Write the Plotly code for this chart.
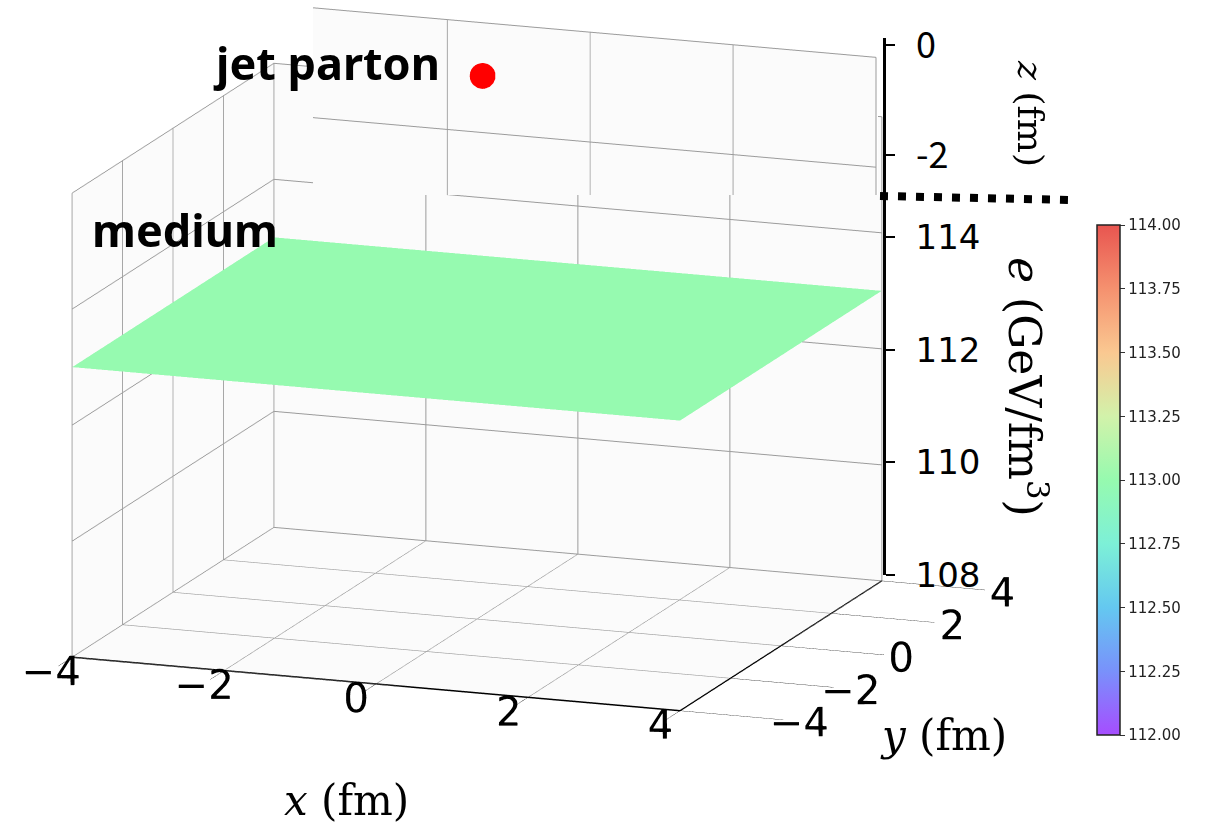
import plotly.graph_objects as go

# ---------------- data ----------------
x_edges = [-4.0, 4.0]                        # fm
y_edges = [-4.0, 4.0]                        # fm
e_medium = [[113.0, 113.0], [113.0, 113.0]]  # GeV/fm^3 (uniform medium)

jet_x = [-0.5]
jet_y = [1.0]
jet_z = [0.0]

xy_ticks = [-4, -2, 0, 2, 4]
xy_ticktext = ["\u22124", "\u22122", "0", "2", "4"]
e_ticks = [108, 110, 112, 114]
z_ticks = [-2, 0]
z_ticktext = ["-2", "0"]
cbar_ticks = [112.00, 112.25, 112.50, 112.75, 113.00, 113.25, 113.50, 113.75, 114.00]

W, H = 1219, 831
def px(x): return x / W
def py(y): return 1 - y / H

rainbow = [
    [0.0, "rgb(166,77,255)"],
    [0.125, "rgb(121,145,251)"],
    [0.25, "rgb(100,200,240)"],
    [0.375, "rgb(125,240,215)"],
    [0.5, "rgb(150,250,175)"],
    [0.625, "rgb(210,242,170)"],
    [0.75, "rgb(250,200,145)"],
    [0.875, "rgb(245,145,111)"],
    [1.0, "rgb(232,85,80)"],
]

tickfont3d = dict(family="DejaVu Sans", size=22, color="black")

def axis3d(rng, tickvals, ticktext=None, labels=True, line=True, ticklen=60):
    d = dict(
        range=rng, tickvals=tickvals, showticklabels=labels, tickangle=0,
        title=dict(text=""), showbackground=True,
        backgroundcolor="rgb(251,251,251)", gridcolor="rgb(155,155,155)",
        gridwidth=2, showline=line, linecolor="black", linewidth=3,
        ticks="outside" if labels else "", tickcolor="black", ticklen=ticklen,
        zeroline=False, showspikes=False, tickfont=tickfont3d,
    )
    if ticktext is not None:
        d["ticktext"] = ticktext
    return d

# common viewing direction (matplotlib-like elev ~14 deg, azim ~ -70 deg)
view = (0.337, -0.911, 0.238)

def cam(center, k):
    return dict(
        center=dict(x=center[0], y=center[1], z=center[2]),
        eye=dict(x=center[0] + k * view[0], y=center[1] + k * view[1], z=center[2] + k * view[2]),
        up=dict(x=0, y=0, z=1),
        projection=dict(type="orthographic"),
    )

fig = go.Figure()

fig.add_trace(go.Surface(
    x=x_edges, y=y_edges, z=e_medium, surfacecolor=e_medium,
    colorscale=rainbow, cmin=112.0, cmax=114.0,
    lighting=dict(ambient=1.0, diffuse=0.0, specular=0.0, fresnel=0.0, roughness=1.0),
    hoverinfo="skip", scene="scene",
    colorbar=dict(
        x=px(1097), xanchor="left", xpad=0, y=py(735), yanchor="bottom", ypad=0,
        len=(735 - 225) / H, lenmode="fraction", thickness=23,
        tickvals=cbar_ticks, tickformat=".2f", ticks="outside", ticklen=5,
        tickcolor="#333", outlinecolor="#222", outlinewidth=1.5,
        tickfont=dict(family="DejaVu Sans", size=15, color="#222"),
    ),
))

fig.add_trace(go.Scatter3d(
    x=jet_x, y=jet_y, z=jet_z, mode="markers",
    marker=dict(size=15, color="red", line=dict(width=0)),
    hoverinfo="skip", scene="scene2", showlegend=False,
))

# 2D carriers for the vertical axes drawn on the right
fig.add_trace(go.Scatter(x=[], y=[], xaxis="x", yaxis="y", showlegend=False, hoverinfo="skip"))
fig.add_trace(go.Scatter(x=[], y=[], xaxis="x", yaxis="y2", showlegend=False, hoverinfo="skip"))

vaxis = dict(
    anchor="free", position=px(884), side="right", showline=True, linecolor="black",
    linewidth=2.5, ticks="outside", ticklen=9, tickwidth=2, tickcolor="black",
    showgrid=False, zeroline=False, fixedrange=True, ticklabelstandoff=14, automargin=False,
)

fig.update_layout(
    template="none",
    width=W, height=H,
    margin=dict(l=0, r=0, t=0, b=0, pad=0, autoexpand=False),
    paper_bgcolor="white", plot_bgcolor="rgba(0,0,0,0)",
    showlegend=False,
    xaxis=dict(visible=False, domain=[0, 1], range=[0, 1], fixedrange=True, automargin=False),
    yaxis=dict(vaxis, domain=[py(575), py(195)], range=[108, 114.75], tickvals=e_ticks,
               tickfont=dict(family="DejaVu Sans", size=34, color="black")),
    yaxis2=dict(vaxis, domain=[py(195), py(38)], range=[-2.727, 0.127], tickvals=z_ticks,
                ticktext=z_ticktext,
                tickfont=dict(family="Noto Sans CJK JP", size=36, color="black")),
    scene=dict(
        domain=dict(x=[0.0, 0.85], y=[0.0, 1.0]),
        xaxis=axis3d([-4, 4], xy_ticks, xy_ticktext, ticklen=110),
        yaxis=axis3d([-4, 4], xy_ticks, xy_ticktext, ticklen=40),
        zaxis=axis3d([108, 116], e_ticks + [116], labels=False, line=False),
        aspectmode="manual", aspectratio=dict(x=1.56, y=1.40, z=1.15),
        camera=cam((0.0983, 0.0189, -0.0666), 3.0),
        bgcolor="rgba(0,0,0,0)",
    ),
    scene2=dict(
        domain=dict(x=[px(313), px(878)], y=[py(195), 1.0]),
        xaxis=axis3d([-4, 4], xy_ticks, labels=False, line=False),
        yaxis=axis3d([-4, 4], xy_ticks, labels=False, line=False),
        zaxis=axis3d([-4, 0], [-4, -2, 0], labels=False, line=False),
        aspectmode="manual", aspectratio=dict(x=6.25, y=5.69, z=2.32),
        camera=cam((0.886, 0.606, 1.060), 10.0),
        bgcolor="white",
    ),
)

bold = dict(family="Noto Sans", size=45, color="black")
serif = dict(family="DejaVu Serif", size=42, color="black")

def note(text, x, y, font, angle=0):
    fig.add_annotation(text=text, x=px(x), y=py(y), xref="paper", yref="paper",
                       xanchor="center", yanchor="middle", showarrow=False,
                       font=font, textangle=angle)

note("<b>jet parton</b>", 327, 63, bold)
note("<b>medium</b>", 185, 230, bold)
note("<i>x</i> (fm)", 346, 800, serif)
note("<i>y</i> (fm)", 943, 735, serif)
note("<i>z</i> (fm)", 1030, 113, dict(serif, size=36), angle=90)
note("<i>e</i> (GeV/fm<sup>3</sup>)", 1027, 387, dict(serif, size=44), angle=90)

fig.add_shape(type="line", xref="paper", yref="paper",
              x0=px(880), y0=py(196), x1=px(1073), y1=py(200),
              line=dict(color="black", width=8, dash="8px,10px"))

fig.write_html("out.html", config={"displayModeBar": False},
               post_script="document.body.style.margin='0';")
